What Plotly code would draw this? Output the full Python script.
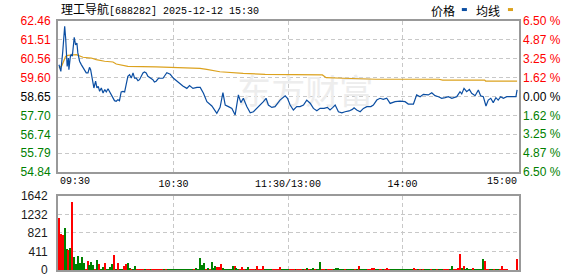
import plotly.graph_objects as go

# ---------------- data ----------------
title_name = "理工导航"
title_code = "[688282] 2025-12-12 15:30"
pre_close = 58.65

price_min = [0, 1, 2, 2.4, 3, 3.5, 4, 4.3, 5, 5.2, 6, 6.4, 7, 7.6, 8, 8.7, 9.4, 9.9, 10.8, 11.7,
             12.6, 13.4, 14.3, 15.2, 16.0, 16.6, 17.1, 17.8, 18.3, 19.2, 19.9, 20.6, 21.3, 22.2,
             23.1, 24.0, 24.8, 25.7, 26.5, 27.4, 28.3, 29.1, 30.0, 30.9, 31.7, 32.6, 33.5, 34.4,
             35.2, 36.1, 37.0, 37.9, 38.8, 39.6, 40.5, 41.4, 42.2, 43.1, 44.0, 44.8, 45.7, 46.6,
             47.4, 48.3, 49.2, 50.0, 50.9, 52.1, 54.5, 56.5, 58.3, 60.0, 62.6, 64.9, 67.0, 68.4,
             70.2, 72.3, 74.0, 75.7, 77.5, 80.1, 82.7, 84.4, 85.9, 87.1, 88.8, 90.6, 92.3, 93.2,
             94.0, 95.3, 96.6, 98.4, 100.2, 101.9, 103.7, 105.4, 107.1, 108.5, 109.7, 111.5, 113.2,
             115.8, 118.5, 119.7, 121.1, 122.8, 124.6, 126.3, 128.1, 129.8, 131.6, 133.3, 135.1,
             136.8, 138.9, 140.6, 142.0, 143.5, 144.7, 146.4, 148.2, 149.9, 152.0, 153.7, 154.6,
             156.0, 157.8, 159.5, 161.3, 163.4, 164.7, 166.5, 168.2, 169.9, 171.7, 173.5, 176.1,
             178.7, 181.3, 183.0, 185.7, 187.4, 189.2, 190.9, 193.5, 195.3, 197.0, 198.8, 200.5,
             202.3, 204.0, 205.8, 208.4, 210.1, 211.0, 212.2, 213.6, 215.0, 216.2, 218.0, 219.7,
             220.9, 222.3, 223.7, 224.9, 226.2, 227.5, 228.9, 230.1, 231.4, 232.8, 234.6, 239.4, 240]
price_val = [60.25, 59.92, 60.93, 61.60, 62.19, 61.60, 60.93, 60.17, 60.59, 60.00, 60.68, 60.76, 60.68,
             61.43, 61.64, 61.26, 61.35, 60.85, 60.43, 60.26, 60.09, 59.95, 59.84, 59.84, 60.12, 60.00,
             59.75, 59.25, 59.08, 59.42, 59.08, 59.16, 58.91, 59.08, 58.83, 59.00, 58.88, 59.04, 58.91,
             58.78, 58.57, 58.44, 58.41, 58.49, 58.44, 58.88, 58.91, 58.88, 59.25, 59.67, 59.75, 59.58,
             59.84, 59.58, 59.58, 59.45, 59.50, 59.67, 59.84, 59.89, 59.84, 59.67, 59.62, 59.58, 59.50,
             59.38, 59.42, 59.57, 59.57, 59.85, 59.77, 59.57, 59.35, 59.18, 59.06, 59.20, 59.06, 59.11,
             59.11, 58.81, 58.39, 58.17, 57.80, 58.10, 58.84, 58.22, 58.14, 58.05, 57.72, 58.39, 58.73,
             58.34, 58.56, 58.14, 57.83, 57.88, 58.05, 58.22, 58.39, 58.56, 58.22, 58.10, 58.14, 58.47,
             58.68, 58.56, 58.22, 57.97, 58.14, 58.14, 58.22, 58.47, 58.31, 58.05, 57.93, 58.05, 58.05,
             58.10, 57.97, 58.10, 58.22, 57.88, 57.83, 57.88, 57.92, 58.00, 58.08, 57.97, 57.88, 58.05,
             58.14, 58.14, 58.22, 58.47, 58.56, 58.51, 58.56, 58.30, 58.39, 58.42, 58.39, 58.27, 58.27,
             58.73, 58.64, 58.76, 58.73, 58.84, 58.69, 58.64, 58.56, 58.59, 58.64, 58.56, 58.64, 58.89,
             58.78, 59.06, 58.89, 59.01, 58.81, 58.69, 58.98, 58.69, 58.64, 58.17, 58.47, 58.56, 58.34,
             58.59, 58.47, 58.64, 58.56, 58.64, 58.64, 58.98]

avg_min = [0, 1.5, 3.5, 4.7, 9.1, 12.6, 16.9, 19.5, 23.9, 28.3, 30.0, 36.1, 50.9, 63.5, 73.9, 77.4,
           84.3, 96.5, 108, 138, 140, 149, 166, 199, 201, 223, 223.5, 240]
avg_val = [60.09, 60.20, 60.68, 60.73, 60.76, 60.63, 60.59, 60.51, 60.43, 60.39, 60.29, 60.17, 60.14,
           60.10, 60.07, 60.02, 59.90, 59.82, 59.77, 59.74, 59.60, 59.57, 59.52, 59.52, 59.48, 59.48,
           59.43, 59.43]

volume = [1159, 802, 780, 936, 468, 446, 490, 1516, 290, 134,
          312, 156, 290, 156, 22, 200, 111, 178, 111, 22,
          223, 134, 22, 67, 156, 22, 22, 67, 134, 334,
          22, 156, 22, 22, 89, 134, 156, 45, 22, 22,
          89, 22, 22, 22, 22, 22, 22, 22, 22, 22,
          22, 22, 22, 22, 22, 22, 22, 22, 22, 22,
          22, 22, 22, 22, 22, 22, 22, 22, 22, 22,
          22, 22, 30, 22, 267, 111, 156, 22, 45, 22,
          178, 45, 89, 67, 67, 134, 45, 22, 22, 22,
          22, 89, 89, 45, 22, 22, 67, 22, 22, 67,
          22, 22, 22, 22, 89, 22, 22, 89, 22, 22,
          22, 22, 22, 22, 22, 22, 67, 22, 22, 22,
          22, 22, 22, 22, 22, 22, 22, 22, 22, 22,
          45, 22, 22, 45, 22, 22, 22, 178, 22, 22,
          22, 22, 22, 22, 22, 45, 45, 22, 22, 22,
          22, 22, 22, 22, 22, 22, 22, 89, 22, 22,
          22, 22, 22, 22, 45, 45, 22, 22, 22, 22,
          22, 22, 45, 22, 22, 22, 22, 22, 22, 22,
          22, 22, 22, 22, 22, 22, 45, 22, 22, 22,
          22, 22, 22, 22, 22, 22, 22, 22, 22, 22,
          22, 22, 22, 22, 22, 22, 89, 22, 22, 30,
          357, 45, 89, 22, 45, 22, 22, 45, 22, 22,
          22, 22, 245, 200, 22, 22, 22, 22, 22, 22,
          22, 22, 89, 22, 22, 22, 0, 0, 0, 0, 245]
vol_dir = [1, 1, 1, -1, -1, 1, -1, 1, -1, -1,
           -1, -1, -1, -1, 1, 1, -1, -1, -1, 1,
           -1, 1, -1, -1, 1, -1, -1, -1, -1, 1,
           -1, 1, -1, -1, 1, 1, -1, -1, 1, -1,
           -1, 1, 1, 1, 1, -1, 1, 1, -1, 1,
           1, 1, 1, 1, 1, -1, 1, -1, -1, -1,
           -1, -1, -1, -1, -1, -1, -1, -1, -1, -1,
           -1, 1, -1, -1, -1, -1, -1, 1, -1, 1,
           -1, -1, -1, 1, 1, 1, -1, -1, -1, -1,
           -1, -1, 1, -1, -1, 1, 1, 1, -1, -1,
           1, 1, 1, -1, 1, 1, 1, 1, -1, -1,
           -1, -1, 1, 1, 1, 1, 1, -1, -1, -1,
           -1, 1, 1, 1, -1, 1, 1, 1, -1, 1,
           -1, 1, -1, -1, 1, -1, -1, -1, 1, 1,
           -1, 1, 1, 1, -1, -1, -1, -1, -1, -1,
           1, -1, -1, -1, -1, 1, -1, 1, -1, -1,
           -1, -1, 1, 1, 1, 1, -1, -1, 1, 1,
           -1, 1, 1, 1, -1, -1, -1, -1, -1, -1,
           -1, -1, -1, -1, -1, -1, 1, 1, -1, 1,
           -1, 1, -1, -1, -1, 1, -1, -1, 1, -1,
           -1, -1, 1, 1, 1, -1, -1, 1, 1, 1,
           1, -1, 1, -1, -1, -1, -1, 1, -1, -1,
           -1, -1, -1, 1, 1, 1, -1, -1, 1, -1,
           -1, 1, 1, 1, 1, 1, 1, 1, 1, 1, 1]

price_ticks = [62.46, 61.51, 60.56, 59.60, 58.65, 57.70, 56.74, 55.79, 54.84]
pct_ticks = [6.50, 4.87, 3.25, 1.62, 0.00, -1.62, -3.25, -4.87, -6.50]
vol_ticks = [0, 411, 821, 1232, 1642]
time_ticks = [60, 120, 180]
time_labels = ["10:30", "11:30/13:00", "14:00"]
edge_labels = ["09:30", "15:00"]
legend_names = ["价格", "均线"]

# ---------------- style ----------------
RED = "#ff0000"
GREEN = "#008000"
BLUE = "#0b4ea2"
GOLD = "#dca21e"
GRID = "#c8c8c8"
FRAME = "#999999"
SANS = "Liberation Sans, Arial, sans-serif"
MONO = "Liberation Mono, DejaVu Sans Mono, monospace"
CJK = "Noto Sans CJK SC"

def col_for(v, ref):
    if v > ref + 1e-9:
        return RED
    if v < ref - 1e-9:
        return GREEN
    return "#000000"

price_text = ['<span style="color:%s">%.2f</span>' % (col_for(v, pre_close), v) for v in price_ticks]
pct_text = ['<span style="color:%s">%.2f %%</span>' % (col_for(v, 0), abs(v)) for v in pct_ticks]
bar_colors = [RED if d > 0 else GREEN for d in vol_dir]

X_RANGE = [-0.5, 241]
P_DOM = [0.3936, 1.0]
V_DOM = [0.0, 0.2972]

fig = go.Figure()

# watermark (behind lines)
fig.add_trace(go.Scatter(x=[129], y=[58.68], mode="text", text=["东方财富"],
                         textfont=dict(family=CJK, size=34, color="#ededed"),
                         hoverinfo="skip", showlegend=False, xaxis="x", yaxis="y"))

fig.add_trace(go.Scatter(x=avg_min, y=avg_val, mode="lines", line=dict(color=GOLD, width=1.2),
                         showlegend=False, xaxis="x", yaxis="y"))
fig.add_trace(go.Scatter(x=price_min, y=price_val, mode="lines", line=dict(color=BLUE, width=1.2),
                         showlegend=False, xaxis="x", yaxis="y"))
# invisible trace for the percent axis
fig.add_trace(go.Scatter(x=[0, 240], y=[pct_ticks[-1], pct_ticks[0]], mode="lines",
                         line=dict(width=0, color="rgba(0,0,0,0)"), hoverinfo="skip",
                         showlegend=False, xaxis="x", yaxis="y2"))

fig.add_trace(go.Bar(x=list(range(len(volume))), y=volume, marker=dict(color=bar_colors, line=dict(width=0)),
                     width=0.6, showlegend=False, xaxis="x2", yaxis="y3"))

grid_common = dict(gridcolor=GRID, griddash="4px,3px", gridwidth=1)
frame_common = dict(showline=True, linecolor=FRAME, linewidth=2, mirror=True, zeroline=False,
                    automargin=False, ticklabeloverflow="allow")

fig.update_layout(
    width=578, height=276,
    margin=dict(l=58, r=59, t=21, b=6, autoexpand=False),
    paper_bgcolor="white", plot_bgcolor="white",
    showlegend=False, bargap=0,
    xaxis=dict(domain=[0, 1], anchor="y", range=X_RANGE, tickvals=time_ticks, ticktext=time_labels,
               ticks="", showgrid=True, tickfont=dict(family=MONO, size=10, color="#000"),
               ticklabelstandoff=1, **grid_common, **frame_common),
    xaxis2=dict(domain=[0, 1], anchor="y3", range=X_RANGE, tickvals=time_ticks, showticklabels=False,
                ticks="", showgrid=True, **grid_common, **frame_common),
    yaxis=dict(domain=P_DOM, range=[price_ticks[-1], price_ticks[0]], tickvals=price_ticks,
               ticktext=price_text, ticks="", showgrid=True, tickfont=dict(family=SANS, size=12),
               ticklabelstandoff=3, **grid_common, **frame_common),
    yaxis2=dict(overlaying="y", side="right", anchor="x", range=[pct_ticks[-1], pct_ticks[0]],
                tickvals=pct_ticks, ticktext=pct_text, ticks="", showgrid=False, zeroline=False,
                automargin=False, ticklabeloverflow="allow",
                tickfont=dict(family=SANS, size=12), ticklabelstandoff=3),
    yaxis3=dict(domain=V_DOM, anchor="x2", range=[vol_ticks[0], vol_ticks[-1]], tickvals=vol_ticks,
                ticks="", showgrid=True, tickfont=dict(family=SANS, size=12, color="#1a1a1a"),
                ticklabelstandoff=6, **grid_common, **frame_common),
)

annotations = [
    dict(xref="paper", yref="paper", x=0.002, y=1.0, xanchor="left", yanchor="bottom", yshift=2,
         text='<span style="font-family:Noto Sans CJK SC;font-size:12px">%s</span>%s' % (title_name, title_code),
         showarrow=False, font=dict(family=MONO, size=10, color="#000")),
    dict(xref="x", yref="paper", x=X_RANGE[0], y=P_DOM[0], xanchor="left", yanchor="top", yshift=-2,
         text=edge_labels[0], showarrow=False, font=dict(family=MONO, size=10, color="#000")),
    dict(xref="x", yref="paper", x=X_RANGE[1], y=P_DOM[0], xanchor="right", yanchor="top", yshift=-2,
         text=edge_labels[1], showarrow=False, font=dict(family=MONO, size=10, color="#000")),
    dict(xref="paper", yref="paper", x=0.835, y=1.044, xanchor="center", yanchor="middle",
         text=legend_names[0], showarrow=False, font=dict(family=CJK, size=12, color="#000")),
    dict(xref="paper", yref="paper", x=0.933, y=1.044, xanchor="center", yanchor="middle",
         text=legend_names[1], showarrow=False, font=dict(family=CJK, size=12, color="#000")),
]
fig.update_layout(annotations=annotations)

fig.update_layout(shapes=[
    dict(type="rect", xref="paper", yref="paper", x0=0.876, x1=0.887, y0=1.040, y1=1.052,
         fillcolor=BLUE, line=dict(width=0)),
    dict(type="rect", xref="paper", yref="paper", x0=0.976, x1=0.987, y0=1.040, y1=1.052,
         fillcolor=GOLD, line=dict(width=0)),
])

fig.write_html("out.html")
